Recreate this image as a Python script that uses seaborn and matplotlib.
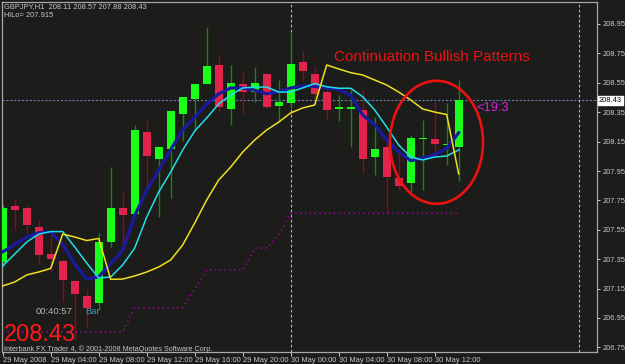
import numpy as np
import pandas as pd
import matplotlib
matplotlib.use("Agg")
import matplotlib.pyplot as plt
from matplotlib.patches import Ellipse
import seaborn as sns

# ---------------- data ----------------
opens = [207.33, 207.71, 207.70, 207.57, 207.385, 207.34, 207.20, 207.10, 207.05, 207.47,
         207.70, 207.66, 208.215, 208.035, 208.10, 208.34, 208.44, 208.545, 208.67, 208.37,
         208.54, 208.485, 208.61, 208.395, 208.41, 208.69, 208.61, 208.485, 208.375, 208.37,
         208.365, 208.045, 208.11, 207.90, 207.865, 208.165, 208.165, 208.125, 208.11]
highs = [207.72, 207.76, 207.71, 207.62, 207.53, 207.35, 207.21, 207.15, 207.53, 207.98,
         207.81, 208.26, 208.30, 208.11, 208.36, 208.455, 208.54, 208.93, 208.74, 208.67,
         208.625, 208.66, 208.62, 208.57, 208.89, 208.765, 208.66, 208.525, 208.47, 208.50,
         208.50, 208.32, 208.14, 208.08, 208.195, 208.30, 208.42, 208.41, 208.57]
lows = [207.30, 207.55, 207.53, 207.32, 207.26, 207.06, 206.80, 206.88, 207.005, 207.435,
        207.41, 207.64, 207.84, 207.64, 207.765, 208.155, 208.23, 208.545, 208.35, 208.26,
        208.34, 208.42, 208.38, 208.285, 208.38, 208.565, 208.455, 208.30, 208.29, 208.115,
        207.935, 207.92, 207.67, 207.82, 207.81, 207.82, 208.06, 207.99, 207.88]
closes = [207.70, 207.685, 207.58, 207.38, 207.35, 207.21, 207.11, 207.02, 207.465, 207.70,
          207.65, 208.23, 208.05, 208.11, 208.36, 208.455, 208.54, 208.665, 208.385, 208.55,
          208.49, 208.55, 208.385, 208.42, 208.68, 208.63, 208.475, 208.365, 208.385, 208.38,
          208.035, 208.10, 207.91, 207.85, 208.175, 208.175, 208.135, 208.13, 208.43]

ma_blue = [207.40, 207.45, 207.50, 207.53, 207.535, 207.45, 207.32, 207.215, 207.23, 207.32,
           207.41, 207.645, 207.82, 207.955, 208.095, 208.23, 208.315, 208.405, 208.475, 208.515,
           208.515, 208.50, 208.475, 208.49, 208.515, 208.53, 208.525, 208.515, 208.505, 208.465,
           208.33, 208.265, 208.16, 208.08, 208.02, 208.04, 208.06, 208.105, 208.21]
ma_cyan = [207.304, 207.385, 207.467, 207.521, 207.538, 207.538, 207.433, 207.324, 207.222, 207.229,
           207.311, 207.426, 207.637, 207.807, 207.943, 208.093, 208.222, 208.311, 208.406, 208.467,
           208.515, 208.521, 208.521, 208.487, 208.487, 208.515, 208.545, 208.523, 208.513, 208.513,
           208.455, 208.365, 208.249, 208.127, 208.045, 208.025, 208.045, 208.052, 208.093]
ma_yellow = [207.168, 207.195, 207.243, 207.263, 207.287, 207.521, 207.501, 207.477, 207.491, 207.213,
             207.215, 207.236, 207.263, 207.297, 207.345, 207.447, 207.596, 207.753, 207.889, 207.977,
             208.079, 208.161, 208.229, 208.283, 208.345, 208.379, 208.399, 208.671, 208.644, 208.619,
             208.603, 208.569, 208.535, 208.487, 208.433, 208.372, 208.351, 208.334, 207.93]
hilo = [206.855] * 11 + [207.02] * 5 + [207.147] + [207.277] * 4 + [207.426] * 2 + [207.515] + [207.662] * 15

y_ticks = [208.95, 208.75, 208.55, 208.35, 208.15, 207.95, 207.75, 207.55, 207.35, 207.15, 206.95, 206.75]
x_tick_bars = [0, 4, 8, 12, 16, 20, 24, 28, 32, 36]
x_tick_labels = ["29 May 2008", "29 May 04:00", "29 May 08:00", "29 May 12:00", "29 May 16:00",
                 "29 May 20:00", "30 May 00:00", "30 May 04:00", "30 May 08:00", "30 May 12:00"]
last_price = 208.43

n = len(opens)
df = pd.DataFrame({"bar": np.arange(n), "open": opens, "high": highs, "low": lows,
                   "close": closes, "blue": ma_blue, "cyan": ma_cyan, "yellow": ma_yellow,
                   "hilo": hilo})

# ---------------- figure ----------------
W, H = 625, 364
BG = "#1c1c1a"
TXT = "#c8c8c8"
FONT = ["Liberation Sans", "DejaVu Sans"]
plt.rcParams["font.family"] = FONT

fig = plt.figure(figsize=(W / 100, H / 100), dpi=100, facecolor=BG)
ax = fig.add_axes([2 / W, 12 / H, 595 / W, 350 / H])
ax.set_facecolor(BG)

# candles
body_w = 0.67
for _, r in df.iterrows():
    bull = r["close"] >= r["open"]
    wick_c = "#0c8c0c" if bull else "#a00022"
    body_c = "#1aff1a" if bull else "#e2234b"
    ax.vlines(r["bar"], r["low"], r["high"], color=wick_c, lw=1.0, zorder=2)
    lo = min(r["open"], r["close"])
    h = max(abs(r["close"] - r["open"]), 0.012)
    ax.bar(r["bar"], h, bottom=lo, width=body_w, color=body_c, edgecolor="none", zorder=3)

# indicator lines
sns.lineplot(data=df, x="bar", y="hilo", ax=ax, color="#b000b0", lw=1.0,
             linestyle=(0, (1, 2.5)), zorder=4)
sns.lineplot(data=df, x="bar", y="blue", ax=ax, color="#1a1aa0", lw=2.3, zorder=5)
sns.lineplot(data=df, x="bar", y="cyan", ax=ax, color="#22e0e8", lw=1.1, zorder=6)
sns.lineplot(data=df, x="bar", y="yellow", ax=ax, color="#f0e020", lw=1.1, zorder=7)

# separators
ax.axhline(last_price, color="#6c7cb0", lw=0.8, linestyle=(0, (2, 1.5)), zorder=1)
for b in (24, 48):
    ax.axvline(b, color="#b8b8b8", lw=0.8, linestyle=(0, (2.5, 2)), zorder=1)

# limits: bar i at pixel 2.7 + 12 i
x_left = (2 - 2.7) / 12
x_right = (597 - 2.7) / 12
ax.set_xlim(x_left, x_right)
y_top = 208.95 + 22 / 147
y_bot = 208.95 - 328 / 147
ax.set_ylim(y_bot, y_top)

# axes styling
for s in ax.spines.values():
    s.set_color("#a8a8a8")
    s.set_linewidth(0.9)
ax.yaxis.tick_right()
ax.set_yticks(y_ticks)
ax.set_yticklabels([f"{v:.2f}" for v in y_ticks])
ax.set_xticks(x_tick_bars)
ax.set_xticklabels(x_tick_labels, ha="left")
ax.tick_params(axis="y", colors=TXT, labelsize=5.4, length=2.5, width=0.7, pad=1.5,
               labelcolor=TXT)
ax.tick_params(axis="x", colors=TXT, labelsize=5.4, length=3, width=0.7, pad=0.5,
               labelcolor=TXT)
ax.set_xlabel("")
ax.set_ylabel("")
if ax.get_legend():
    ax.get_legend().remove()

# price box on right axis
ax.text(1.003, last_price, f"{last_price:.2f}", transform=ax.get_yaxis_transform(),
        ha="left", va="center", fontsize=5.4, color="black",
        bbox=dict(boxstyle="square,pad=0.15", fc="white", ec="white"), zorder=10, clip_on=False)

# ellipse annotation
cx = (436.5 - 2.7) / 12
cy = 208.95 - (142.3 - 24) / 147
ax.add_patch(Ellipse((cx, cy), 93 / 12, 123 / 147, fill=False, ec="#ee1111", lw=1.9, zorder=9))


def ftext(px, py, s, **kw):
    fig.text(px / W, 1 - py / H, s, **kw)


ftext(4, 7, "GBPJPY,H1  208.11 208.57 207.88 208.43", fontsize=5.4, color=TXT, va="center")
ftext(4, 15.5, "HiLo= 207.915", fontsize=5.4, color=TXT, va="center")
ftext(334, 57, "Continuation Bullish Patterns", fontsize=11, color="#ee1111", va="center")
ftext(476, 108, "<19:3", fontsize=9.3, color="#e020e0", va="center")
ftext(36, 311, "00:40:57", fontsize=6.8, color="#b8b8b8", va="center")
ftext(85, 311, "Bar", fontsize=6.8, color="#3a9cb0", va="center")
ftext(4, 341, "208.43", fontsize=17, color="#ff1a1a", va="baseline")
ftext(4, 349, "Interbank FX Trader 4, \u00a9 2001-2008 MetaQuotes Software Corp.",
      fontsize=5.2, color=TXT, va="center")

fig.savefig("out.png", dpi=100, facecolor=BG)
